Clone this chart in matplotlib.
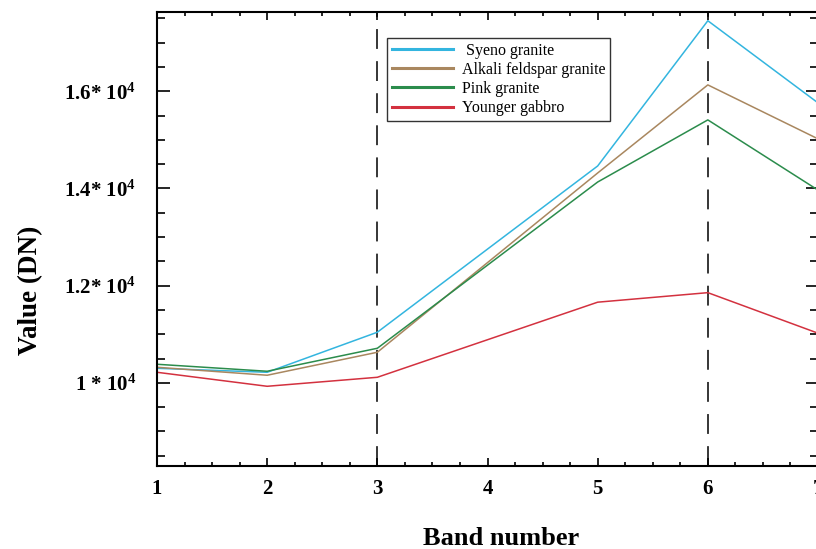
import numpy as np
import matplotlib
matplotlib.use('Agg')
import matplotlib.pyplot as plt
from matplotlib.ticker import MultipleLocator, FixedLocator

plt.rcParams['font.family'] = ['Liberation Serif', 'DejaVu Serif']
plt.rcParams['mathtext.fontset'] = 'custom'
plt.rcParams['mathtext.rm'] = 'Liberation Serif:bold'
plt.rcParams['mathtext.bf'] = 'Liberation Serif:bold'
plt.rcParams['mathtext.default'] = 'rm'

# Данные
bands = [1, 2, 3, 5, 6, 7]
syeno = [10300, 10218, 11042, 14462, 17450, 15760]
alkali = [10321, 10157, 10630, 14318, 16130, 15020]
pink = [10383, 10239, 10712, 14132, 15410, 13966]
gabbro = [10218, 9930, 10115, 11660, 11856, 11022]

names = [' Syeno granite', 'Alkali feldspar granite', 'Pink granite', 'Younger gabbro']
colors = ['#33b5df', '#a9875f', '#2b8c4c', '#d3313f']

yticks = [10000, 12000, 14000, 16000]
ytick_labels = [r'1 * 10$^{4}$', r'1.2* 10$^{4}$', r'1.4* 10$^{4}$', r'1.6* 10$^{4}$']

fig = plt.figure(figsize=(8.16, 5.49), dpi=100)
ax = fig.add_axes([157 / 816, 1 - 466 / 549, 661 / 816, (466 - 11.5) / 549])

for vals, name, c in zip([syeno, alkali, pink, gabbro], names, colors):
    ax.plot(bands, vals, color=c, lw=1.1, label=name)

# пунктирные вертикали
for xv in [3, 6]:
    ax.axvline(xv, color='black', lw=1.1, dashes=(13, 8), zorder=0)

ax.set_xlim(1, 7)
ax.set_ylim(8290, 17640)

ax.xaxis.set_major_locator(MultipleLocator(1))
ax.xaxis.set_minor_locator(MultipleLocator(0.25))
ax.yaxis.set_major_locator(FixedLocator(yticks))
ax.yaxis.set_minor_locator(MultipleLocator(500))
ax.set_yticklabels(ytick_labels)

ax.tick_params(axis='both', which='both', direction='in', top=True, right=True, width=1.2)
ax.tick_params(axis='x', which='major', length=5.5, pad=9, labelsize=15)
ax.tick_params(axis='x', which='minor', length=3)
ax.tick_params(axis='y', which='major', length=9, pad=15, labelsize=15)
ax.tick_params(axis='y', which='minor', length=6)
for lab in ax.get_xticklabels() + ax.get_yticklabels():
    lab.set_fontweight('bold')
for sp in ax.spines.values():
    sp.set_linewidth(1.5)

ax.set_xlabel('Band number', fontsize=19, fontweight='bold')
ax.xaxis.set_label_coords(0.52, -0.135)
ax.set_ylabel('Value (DN)', fontsize=19.5, fontweight='bold')
ax.yaxis.set_label_coords(-0.172, 0.387)

leg = ax.legend(loc='upper left', bbox_to_anchor=(0.348, 0.942), fontsize=11.5,
                frameon=True, fancybox=False, edgecolor='black', handlelength=3.8,
                handletextpad=0.6, borderpad=0.3, labelspacing=0.2, borderaxespad=0)
leg.get_frame().set_linewidth(1.0)
for h in leg.get_lines():
    h.set_linewidth(2.2)

fig.savefig('out.png', dpi=100)
